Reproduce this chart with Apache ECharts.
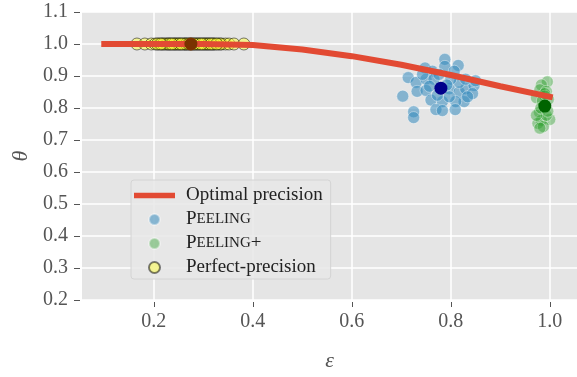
<!DOCTYPE html>
<html>
<head>
<meta charset="utf-8">
<script src="https://cdn.jsdelivr.net/npm/echarts@6/dist/echarts.min.js"></script>
<style>
  html, body { margin: 0; padding: 0; background: #fff; }
  #chart { width: 577px; height: 377px; }
</style>
</head>
<body>
<div id="chart"></div>
<script>
// optimal precision curve
const optEps = [0.1, 0.2, 0.3, 0.4, 0.5, 0.6, 0.7, 0.8, 0.9, 1.0]
const optTheta = [1.0, 1.0, 1.0, 0.997, 0.983, 0.962, 0.935, 0.903, 0.868, 0.835]

// Peeling runs
const peelEps = [0.788, 0.788, 0.815, 0.748, 0.763, 0.714, 0.730, 0.750, 0.732, 0.750,
  0.703, 0.760, 0.797, 0.817, 0.830, 0.847, 0.844, 0.827, 0.810, 0.783,
  0.770, 0.783, 0.809, 0.725, 0.725, 0.797, 0.817, 0.800, 0.766, 0.830,
  0.850, 0.743, 0.807, 0.773, 0.834, 0.776, 0.792, 0.757]
const peelTheta = [0.952, 0.930, 0.933, 0.925, 0.915, 0.895, 0.880, 0.890, 0.852, 0.855,
  0.837, 0.825, 0.860, 0.850, 0.860, 0.870, 0.845, 0.820, 0.820, 0.820,
  0.795, 0.792, 0.795, 0.788, 0.770, 0.835, 0.880, 0.890, 0.890, 0.890,
  0.885, 0.905, 0.915, 0.840, 0.835, 0.905, 0.872, 0.868]

// Peeling+ runs
const plusEps = [0.995, 0.983, 0.980, 0.993, 0.973, 0.990, 0.997, 0.979, 1.0, 0.983,
  0.976, 0.987, 0.980, 0.993, 0.973, 0.985, 0.990, 0.982, 0.996]
const plusTheta = [0.882, 0.872, 0.857, 0.852, 0.832, 0.837, 0.827, 0.787, 0.764, 0.762,
  0.752, 0.742, 0.737, 0.777, 0.777, 0.822, 0.845, 0.800, 0.790]

// Perfect-precision runs
const perfEps = [0.166, 0.182, 0.195, 0.203, 0.210, 0.216, 0.222, 0.228, 0.233, 0.238,
  0.243, 0.248, 0.253, 0.258, 0.263, 0.268, 0.273, 0.278, 0.283, 0.288,
  0.293, 0.298, 0.303, 0.308, 0.313, 0.318, 0.323, 0.330, 0.337, 0.345,
  0.352, 0.362, 0.382, 0.226, 0.246, 0.262, 0.286, 0.306, 0.207, 0.219,
  0.231, 0.241, 0.251, 0.266, 0.276, 0.291, 0.301, 0.311, 0.321, 0.334,
  0.214, 0.236, 0.256, 0.271, 0.281, 0.296, 0.316, 0.327]
const perfTheta = [1.0, 1.0, 1.0, 1.0, 1.0, 1.0, 1.0, 1.0, 1.0, 1.0,
  1.0, 1.0, 1.0, 1.0, 1.0, 1.0, 1.0, 1.0, 1.0, 1.0,
  1.0, 1.0, 1.0, 1.0, 1.0, 1.0, 1.0, 1.0, 1.0, 1.0,
  1.0, 1.0, 1.0, 1.0, 1.0, 1.0, 1.0, 1.0, 1.0, 1.0,
  1.0, 1.0, 1.0, 1.0, 1.0, 1.0, 1.0, 1.0, 1.0, 1.0,
  1.0, 1.0, 1.0, 1.0, 1.0, 1.0, 1.0, 1.0]

// means
const peelMean = [0.78, 0.862]
const plusMean = [0.99, 0.806]
const perfMean = [0.275, 1.0]

const xTicks = [0.2, 0.4, 0.6, 0.8, 1.0]

const serif = '"Liberation Serif", "DejaVu Serif", serif'
const zip = (xs, ys) => xs.map((x, i) => [x, ys[i]])

const chart = echarts.init(document.getElementById('chart'), null, { renderer: 'canvas' })

chart.setOption({
  animation: false,
  backgroundColor: '#fff',
  grid: { left: 82, top: 12, width: 496, bottom: 67, backgroundColor: '#e5e5e5', show: true, borderWidth: 0 },
  legend: {
    left: 131,
    top: 180,
    orient: 'vertical',
    itemWidth: 41,
    itemHeight: 11,
    itemGap: 5,
    padding: [6, 8, 2, 3],
    backgroundColor: 'rgba(232,232,232,0.85)',
    borderColor: '#d4d4d4',
    borderWidth: 1,
    borderRadius: 3,
    data: [
      { name: 'Optimal precision', icon: 'path://M0,0M41,11M0,2.8L41,2.8L41,8.2L0,8.2Z' },
      { name: 'Peeling', icon: 'circle' },
      { name: 'Peeling+', icon: 'circle' },
      { name: 'Perfect-precision', icon: 'circle' }
    ],
    formatter: name => {
      if (name === 'Peeling') return '{b|P}{s|EELING}'
      if (name === 'Peeling+') return '{b|P}{s|EELING}{b|+}'
      return '{b|' + name + '}'
    },
    textStyle: {
      color: '#222',
      fontFamily: serif,
      fontSize: 19,
      padding: [0, 0, 0, 6],
      rich: {
        b: { fontFamily: serif, fontSize: 19, color: '#222' },
        s: { fontFamily: serif, fontSize: 15, color: '#222' }
      }
    }
  },
  xAxis: {
    type: 'value',
    min: 0.055,
    max: 1.055,
    offset: 2,
    name: 'ε',
    nameLocation: 'middle',
    nameGap: 48,
    nameTextStyle: { fontFamily: serif, fontStyle: 'italic', fontSize: 22, color: '#555' },
    axisLine: { show: false },
    axisTick: { show: true, length: 5, lineStyle: { color: '#555' }, customValues: xTicks },
    axisLabel: { color: '#555', fontFamily: serif, fontSize: 20, margin: 10, customValues: xTicks,
      formatter: v => v.toFixed(1) },
    splitLine: { show: true, lineStyle: { color: '#fff', width: 1.5 } }
  },
  yAxis: {
    type: 'value',
    min: 0.2,
    max: 1.1,
    interval: 0.1,
    offset: 2,
    name: 'θ',
    nameLocation: 'middle',
    nameGap: 48,
    nameTextStyle: { fontFamily: serif, fontStyle: 'italic', fontSize: 22, color: '#555' },
    axisLine: { show: false },
    axisTick: { show: true, length: 6, lineStyle: { color: '#555' } },
    axisLabel: { color: '#555', fontFamily: serif, fontSize: 20, margin: 12,
      formatter: v => v.toFixed(1) },
    splitLine: { show: true, lineStyle: { color: '#fff', width: 1.5 } }
  },
  series: [
    {
      name: 'Peeling',
      type: 'scatter',
      data: zip(peelEps, peelTheta),
      symbolSize: 12,
      z: 2,
      itemStyle: { color: 'rgba(52,138,189,0.55)', borderColor: 'rgba(255,255,255,0.4)', borderWidth: 1, opacity: 1 }
    },
    {
      name: 'Peeling+',
      type: 'scatter',
      data: zip(plusEps, plusTheta),
      symbolSize: 12,
      z: 2,
      itemStyle: { color: 'rgba(44,160,44,0.42)', borderColor: 'rgba(255,255,255,0.4)', borderWidth: 1, opacity: 1 }
    },
    {
      name: 'Perfect-precision',
      type: 'scatter',
      data: zip(perfEps, perfTheta),
      symbolSize: 12,
      z: 2,
      itemStyle: { color: 'rgba(255,255,60,0.5)', borderColor: 'rgba(0,0,0,0.5)', borderWidth: 1, opacity: 1 }
    },
    {
      name: 'Optimal precision',
      type: 'line',
      data: zip(optEps, optTheta),
      showSymbol: false,
      symbol: 'none',
      z: 3,
      lineStyle: { color: '#E24A33', width: 6, cap: 'square' },
      itemStyle: { color: '#E24A33' }
    },
    {
      name: 'peelMean',
      type: 'scatter',
      data: [peelMean],
      symbolSize: 13,
      z: 4,
      itemStyle: { color: '#00008b', opacity: 1 }
    },
    {
      name: 'plusMean',
      type: 'scatter',
      data: [plusMean],
      symbolSize: 13,
      z: 4,
      itemStyle: { color: '#006400', opacity: 1 }
    },
    {
      name: 'perfMean',
      type: 'scatter',
      data: [perfMean],
      symbolSize: 13,
      z: 4,
      itemStyle: { color: '#7a3300', opacity: 1 }
    }
  ]
})
</script>
</body>
</html>
